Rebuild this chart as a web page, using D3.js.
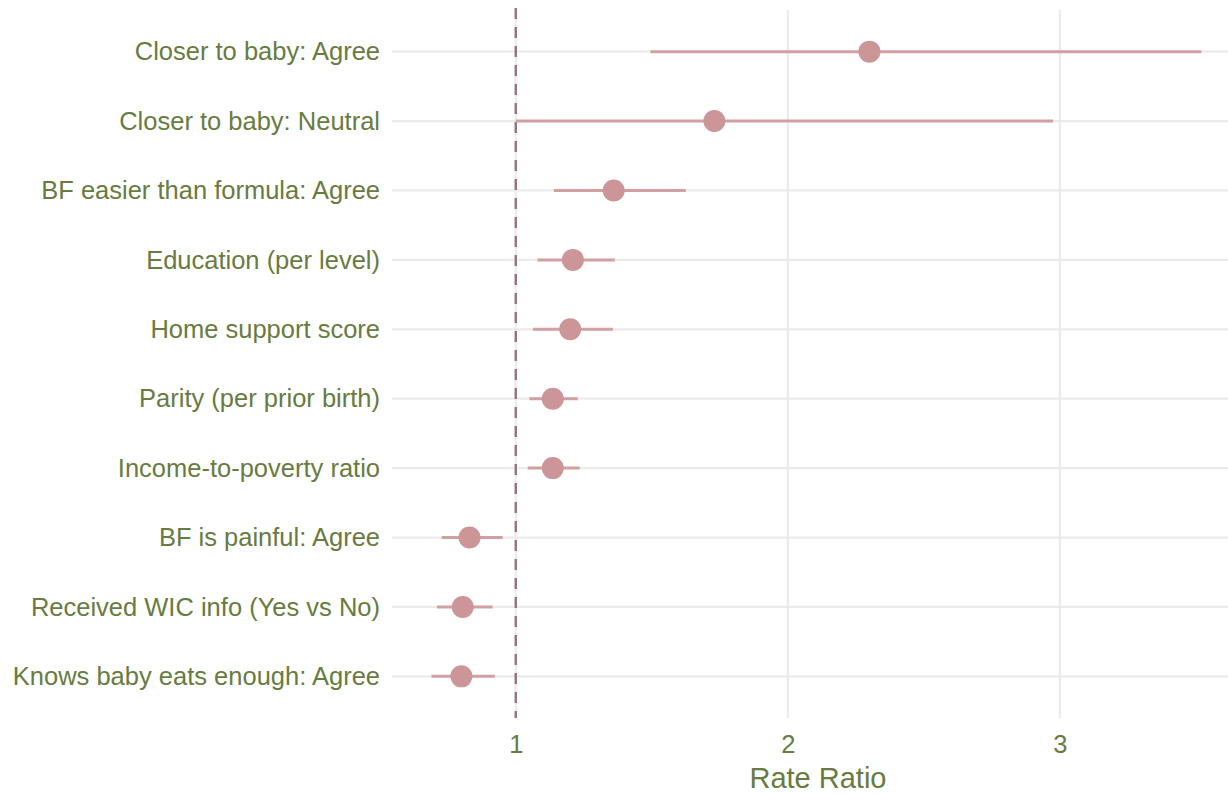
<!DOCTYPE html>
<html>
<head>
<meta charset="utf-8">
<script src="https://cdn.jsdelivr.net/npm/d3@7"></script>
<style>
  html, body { margin: 0; padding: 0; background: #ffffff; }
  svg { display: block; }
</style>
</head>
<body>
<svg id="chart" width="1228" height="794"></svg>
<script>
// Predictors, top to bottom
const terms = [
  "Closer to baby: Agree",
  "Closer to baby: Neutral",
  "BF easier than formula: Agree",
  "Education (per level)",
  "Home support score",
  "Parity (per prior birth)",
  "Income-to-poverty ratio",
  "BF is painful: Agree",
  "Received WIC info (Yes vs No)",
  "Knows baby eats enough: Agree"
];
// Rate ratio estimates and 95% confidence bounds
const estimate = [2.30, 1.73, 1.36, 1.21, 1.20, 1.136, 1.136, 0.83, 0.805, 0.80];
const lower    = [1.495, 1.00, 1.14, 1.08, 1.063, 1.05, 1.044, 0.728, 0.71, 0.69];
const upper    = [3.52, 2.975, 1.625, 1.364, 1.357, 1.228, 1.235, 0.952, 0.915, 0.923];
const xTicks = [1, 2, 3];
const refLine = 1;

const rows = terms.map((t, i) => ({ term: t, est: estimate[i], lo: lower[i], hi: upper[i] }));

const W = 1228, H = 794;
const margin = { top: 10, right: 0, bottom: 76, left: 392 };
const svg = d3.select("#chart");

const x = d3.scaleLinear()
  .domain([0.545, 3.618])
  .range([margin.left, W - margin.right]);

const y = d3.scalePoint()
  .domain(terms)
  .range([margin.top, H - margin.bottom])
  .padding(0.6);

const textColor = "#687b40";
const gridColor = "#ebebeb";
const markColor = "#cc9598";
const ciColor = "#d2a0a2";
const refColor = "#957280";

// Grid
const g = svg.append("g");
g.selectAll(".hgrid").data(terms).join("line")
  .attr("x1", margin.left).attr("x2", W - margin.right)
  .attr("y1", d => y(d)).attr("y2", d => y(d))
  .attr("stroke", gridColor).attr("stroke-width", 2.2);
g.selectAll(".vgrid").data(xTicks).join("line")
  .attr("x1", d => x(d)).attr("x2", d => x(d))
  .attr("y1", margin.top).attr("y2", H - margin.bottom)
  .attr("stroke", gridColor).attr("stroke-width", 2.2);

// Reference line at RR = 1
svg.append("line")
  .attr("x1", x(refLine)).attr("x2", x(refLine))
  .attr("y1", margin.top - 2).attr("y2", H - margin.bottom)
  .attr("stroke", refColor).attr("stroke-width", 2.4)
  .attr("stroke-dasharray", "11,8");

// Confidence intervals
svg.append("g").selectAll("line").data(rows).join("line")
  .attr("x1", d => x(d.lo)).attr("x2", d => x(d.hi))
  .attr("y1", d => y(d.term)).attr("y2", d => y(d.term))
  .attr("stroke", ciColor).attr("stroke-width", 3);

// Point estimates
svg.append("g").selectAll("circle").data(rows).join("circle")
  .attr("cx", d => x(d.est)).attr("cy", d => y(d.term))
  .attr("r", 11).attr("fill", markColor);

// Axes
const font = "'Liberation Sans', Arial, sans-serif";
const yAxis = svg.append("g")
  .attr("transform", `translate(${margin.left},0)`)
  .call(d3.axisLeft(y).tickSize(0).tickPadding(12));
yAxis.select(".domain").remove();
yAxis.selectAll("text")
  .attr("fill", textColor).style("font-family", font).style("font-size", "25.5px");

const xAxis = svg.append("g")
  .attr("transform", `translate(0,${H - margin.bottom})`)
  .call(d3.axisBottom(x).tickValues(xTicks).tickFormat(d3.format("d")).tickSize(0).tickPadding(17));
xAxis.select(".domain").remove();
xAxis.selectAll("text")
  .attr("fill", textColor).style("font-family", font).style("font-size", "25.5px");

svg.append("text")
  .attr("x", (margin.left + W - margin.right) / 2 + 8)
  .attr("y", 788)
  .attr("text-anchor", "middle")
  .attr("fill", textColor)
  .style("font-family", font).style("font-size", "29px")
  .text("Rate Ratio");
</script>
</body>
</html>
